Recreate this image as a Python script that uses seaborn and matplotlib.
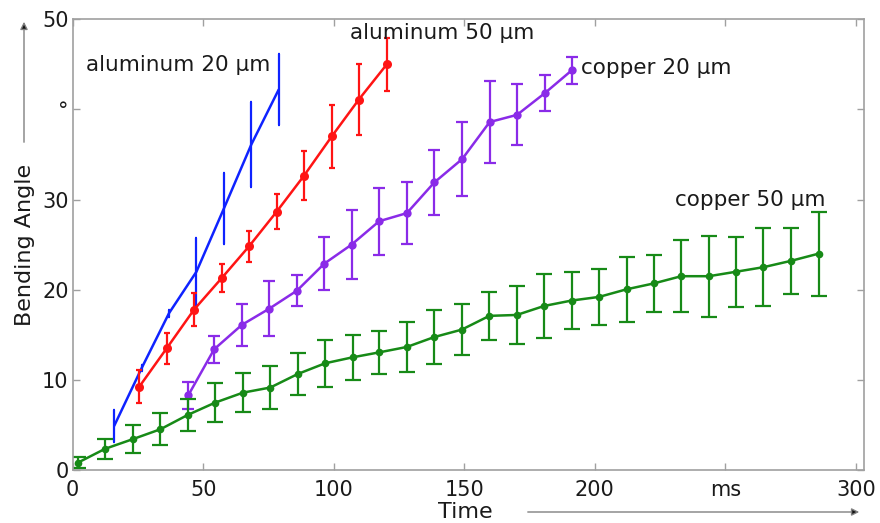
import numpy as np
import pandas as pd
import matplotlib
matplotlib.use("Agg")
import matplotlib.pyplot as plt
import seaborn as sns

# ---- data ----
al20_x = [15.9, 26.4, 36.9, 47.4, 57.9, 68.4, 78.9]
al20_y = [4.9, 11.3, 17.4, 22.0, 29.0, 36.1, 42.2]
al20_e = [1.75, 0.3, 0.4, 3.7, 3.9, 4.7, 3.95]

al50_x = [25.5, 36.0, 46.5, 57.1, 67.5, 78.1, 88.6, 99.2, 109.6, 120.3]
al50_y = [9.24, 13.5, 17.8, 21.3, 24.8, 28.65, 32.65, 37.0, 41.1, 45.0]
al50_e = [1.85, 1.75, 1.8, 1.5, 1.75, 1.95, 2.7, 3.5, 3.95, 2.9]

cu20_x = [44.3, 54.2, 64.8, 75.3, 85.9, 96.4, 106.8, 117.4, 128.0, 138.5,
          149.2, 159.7, 170.2, 180.8, 191.2]
cu20_y = [8.3, 13.4, 16.1, 17.9, 19.9, 22.9, 25.0, 27.6, 28.5, 31.9,
          34.5, 38.6, 39.4, 41.8, 44.35]
cu20_e = [1.5, 1.5, 2.3, 3.05, 1.7, 2.9, 3.8, 3.7, 3.4, 3.6,
          4.1, 4.5, 3.4, 2.0, 1.5]

cu50_x = [1.9, 12.4, 23.0, 33.6, 44.0, 54.6, 65.2, 75.7, 86.2, 96.7,
          107.2, 117.4, 128.0, 138.5, 149.0, 159.6, 170.1, 180.6, 191.1, 201.6,
          212.2, 222.6, 233.1, 243.7, 254.2, 264.6, 275.1, 285.7]
cu50_y = [0.8, 2.35, 3.42, 4.52, 6.1, 7.48, 8.58, 9.15, 10.65, 11.84,
          12.5, 13.05, 13.65, 14.75, 15.57, 17.1, 17.2, 18.2, 18.8, 19.2,
          20.05, 20.7, 21.5, 21.5, 22.0, 22.5, 23.2, 24.0]
cu50_e = [0.6, 1.1, 1.55, 1.75, 1.77, 2.15, 2.2, 2.4, 2.35, 2.6,
          2.5, 2.4, 2.74, 3.0, 2.85, 2.7, 3.2, 3.55, 3.15, 3.1,
          3.6, 3.2, 4.0, 4.5, 3.9, 4.3, 3.7, 4.65]

labels = ["aluminum 20 µm", "aluminum 50 µm", "copper 20 µm", "copper 50 µm"]
x_ticks = [0, 50, 100, 150, 200, 250, 300]
x_ticklabels = ["0", "50", "100", "150", "200", "ms", "300"]
y_ticks = [0, 10, 20, 30, 40, 50]
y_ticklabels = ["0", "10", "20", "30", "°", "50"]

# ---- style ----
sns.set_theme(style="white")
plt.rcParams["font.family"] = ["DejaVu Sans"]

fig = plt.figure(figsize=(8.8, 5.23), dpi=100)
ax = fig.add_axes([72.7 / 880, 1 - 470 / 523, (864 - 72.7) / 880, (470 - 19.3) / 523])

series = [
    (al20_x, al20_y, al20_e, "#0f23ff", None, 0, 1.0),
    (al50_x, al50_y, al50_e, "#ff1414", "o", 6.5, 2.2),
    (cu20_x, cu20_y, cu20_e, "#8a2be8", "o", 6, 4.3),
    (cu50_x, cu50_y, cu50_e, "#178a17", "o", 5.5, 5.5),
]

for (xs, ys, es, col, mk, ms, cap), lab in zip(series, labels):
    df = pd.DataFrame({"x": xs, "y": ys})
    sns.lineplot(data=df, x="x", y="y", ax=ax, color=col, lw=1.8,
                 marker=mk, markersize=ms, markeredgewidth=0, sort=False,
                 legend=False)
    ax.errorbar(xs, ys, yerr=es, fmt="none", ecolor=col, elinewidth=1.6,
                capsize=cap, capthick=1.6)

ax.set_xlim(0, 303.1)
ax.set_ylim(0, 50)
ax.set_xticks(x_ticks)
ax.set_xticklabels(x_ticklabels)
ax.set_yticks(y_ticks)
ax.set_yticklabels(y_ticklabels)
ax.set_xlabel("")
ax.set_ylabel("")

for s in ax.spines.values():
    s.set_visible(True)
    s.set_color("#a0a0a0")
    s.set_linewidth(1.2)

ax.tick_params(axis="both", which="both", direction="in", length=5, width=1,
               color="#a0a0a0", labelsize=15, labelcolor="#1a1a1a",
               top=True, right=True, bottom=True, left=True)
ax.tick_params(axis="x", pad=7)
ax.tick_params(axis="y", pad=3)

# annotations
ax.text(5.1, 44.9, labels[0], fontsize=15.5, color="#1a1a1a", ha="left", va="center")
ax.text(106.2, 48.5, labels[1], fontsize=15.5, color="#1a1a1a", ha="left", va="center")
ax.text(194.7, 44.6, labels[2], fontsize=15.5, color="#1a1a1a", ha="left", va="center")
ax.text(230.7, 29.9, labels[3], fontsize=15.5, color="#1a1a1a", ha="left", va="center")

# axis titles
fig.text(25 / 880, 1 - 245 / 523, "Bending Angle", rotation=90, fontsize=16,
         color="#1a1a1a", ha="center", va="center")
fig.text(465 / 880, 1 - 512 / 523, "Time", fontsize=16, color="#1a1a1a",
         ha="center", va="center")

# arrows
fig.add_artist(matplotlib.patches.FancyArrowPatch(
    (24 / 880, 1 - 145 / 523), (24 / 880, 1 - 19 / 523),
    transform=fig.transFigure, arrowstyle="-|>", mutation_scale=11,
    edgecolor="#808080", facecolor="#111111", lw=1.0))
fig.add_artist(matplotlib.patches.FancyArrowPatch(
    (525 / 880, 1 - 512 / 523), (862 / 880, 1 - 512 / 523),
    transform=fig.transFigure, arrowstyle="-|>", mutation_scale=11,
    edgecolor="#808080", facecolor="#111111", lw=1.0))

fig.savefig("out.png", dpi=100)
